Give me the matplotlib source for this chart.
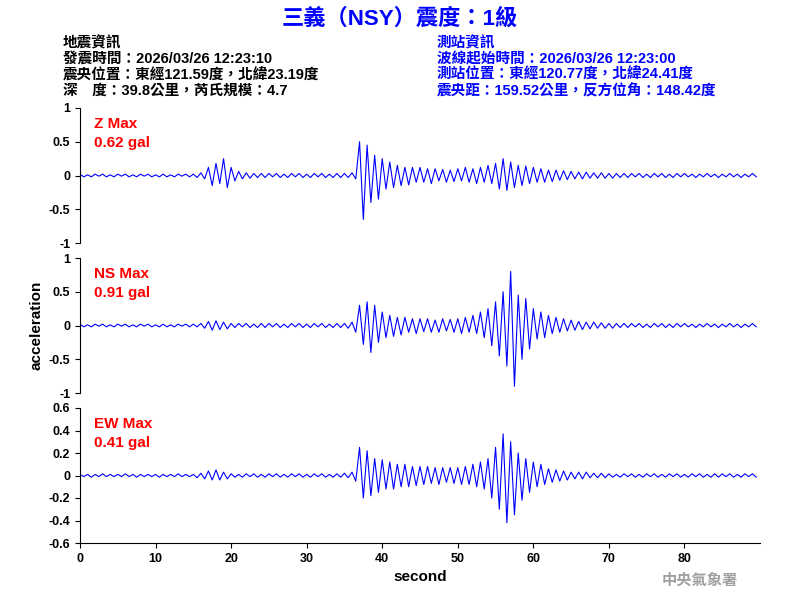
import matplotlib
matplotlib.use("Agg")
import matplotlib.pyplot as plt
import numpy as np

plt.rcParams['font.family'] = ['Liberation Sans', 'Noto Sans CJK TC', 'DejaVu Sans']
plt.rcParams['font.weight'] = 'bold'

step = 0.5
z = [0.02,-0.02,0.01,-0.02,0.02,-0.01,0.02,-0.02,0.01,-0.02,
     0.02,-0.01,0.02,-0.02,0.01,-0.02,0.02,-0.01,0.02,-0.02,
     0.01,-0.02,0.02,-0.02,0.01,-0.02,0.02,-0.01,0.02,-0.02,
     0.02,-0.03,0.04,-0.05,0.12,-0.15,0.18,-0.12,0.25,-0.18,
     0.12,-0.08,0.06,-0.05,0.04,-0.04,0.03,-0.03,0.03,-0.03,
     0.03,-0.02,0.03,-0.03,0.02,-0.03,0.03,-0.02,0.03,-0.03,
     0.02,-0.03,0.03,-0.02,0.03,-0.03,0.02,-0.03,0.03,-0.03,
     0.03,-0.03,0.04,-0.05,0.5,-0.65,0.45,-0.4,0.3,-0.35,
     0.25,-0.2,0.2,-0.18,0.15,-0.15,0.12,-0.14,0.12,-0.1,
     0.12,-0.1,0.1,-0.12,0.1,-0.08,0.09,-0.1,0.08,-0.09,
     0.1,-0.08,0.12,-0.1,0.1,-0.12,0.12,-0.1,0.15,-0.12,
     0.18,-0.2,0.25,-0.22,0.2,-0.18,0.15,-0.15,0.14,-0.12,
     0.12,-0.1,0.1,-0.1,0.08,-0.09,0.08,-0.07,0.07,-0.06,
     0.06,-0.05,0.05,-0.05,0.05,-0.04,0.04,-0.04,0.04,-0.04,
     0.03,-0.04,0.03,-0.03,0.03,-0.03,0.03,-0.02,0.03,-0.03,
     0.02,-0.03,0.03,-0.02,0.03,-0.03,0.02,-0.03,0.03,-0.02,
     0.03,-0.02,0.02,-0.03,0.02,-0.02,0.03,-0.02,0.02,-0.03,
     0.02,-0.02,0.03,-0.02,0.02,-0.03,0.02,-0.02,0.03,-0.02]
ns = [0.02,-0.02,0.01,-0.02,0.02,-0.01,0.02,-0.02,0.01,-0.02,
      0.02,-0.01,0.02,-0.02,0.01,-0.02,0.02,-0.01,0.02,-0.02,
      0.01,-0.02,0.02,-0.02,0.01,-0.02,0.02,-0.01,0.02,-0.02,
      0.02,-0.02,0.03,-0.04,0.06,-0.07,0.07,-0.06,0.05,-0.05,
      0.03,-0.03,0.03,-0.02,0.03,-0.03,0.02,-0.03,0.03,-0.03,
      0.03,-0.02,0.03,-0.03,0.02,-0.03,0.03,-0.02,0.03,-0.03,
      0.02,-0.03,0.03,-0.02,0.03,-0.03,0.02,-0.03,0.03,-0.03,
      0.03,-0.04,0.05,-0.1,0.3,-0.28,0.35,-0.4,0.3,-0.25,
      0.2,-0.18,0.15,-0.16,0.12,-0.14,0.12,-0.1,0.1,-0.12,
      0.1,-0.09,0.1,-0.1,0.08,-0.1,0.1,-0.08,0.09,-0.1,
      0.1,-0.12,0.12,-0.1,0.15,-0.12,0.2,-0.18,0.25,-0.3,
      0.35,-0.45,0.5,-0.6,0.8,-0.9,0.45,-0.5,0.4,-0.35,
      0.25,-0.2,0.2,-0.18,0.15,-0.12,0.12,-0.1,0.1,-0.08,
      0.08,-0.07,0.06,-0.06,0.05,-0.05,0.05,-0.04,0.04,-0.04,
      0.03,-0.04,0.03,-0.03,0.03,-0.03,0.03,-0.02,0.03,-0.03,
      0.02,-0.03,0.03,-0.02,0.03,-0.03,0.02,-0.03,0.03,-0.02,
      0.03,-0.02,0.02,-0.03,0.02,-0.02,0.03,-0.02,0.02,-0.03,
      0.02,-0.02,0.03,-0.02,0.02,-0.03,0.02,-0.02,0.03,-0.02]
ew = [0.01,-0.01,0.01,-0.015,0.01,-0.01,0.015,-0.01,0.01,-0.01,
      0.01,-0.01,0.015,-0.01,0.01,-0.015,0.01,-0.01,0.01,-0.01,
      0.01,-0.015,0.01,-0.01,0.01,-0.01,0.015,-0.01,0.01,-0.01,
      0.01,-0.02,0.02,-0.03,0.04,-0.04,0.05,-0.04,0.03,-0.03,
      0.015,-0.015,0.01,-0.015,0.015,-0.01,0.015,-0.015,0.01,-0.015,
      0.015,-0.01,0.015,-0.015,0.01,-0.015,0.015,-0.01,0.015,-0.015,
      0.01,-0.015,0.015,-0.01,0.015,-0.015,0.01,-0.015,0.015,-0.015,
      0.02,-0.02,0.03,-0.05,0.25,-0.2,0.22,-0.18,0.15,-0.15,
      0.14,-0.12,0.12,-0.12,0.1,-0.1,0.1,-0.1,0.08,-0.09,
      0.08,-0.08,0.08,-0.07,0.07,-0.08,0.07,-0.06,0.07,-0.07,
      0.07,-0.08,0.08,-0.08,0.1,-0.1,0.12,-0.12,0.15,-0.2,
      0.25,-0.3,0.37,-0.42,0.3,-0.35,0.2,-0.22,0.15,-0.15,
      0.12,-0.1,0.1,-0.08,0.06,-0.06,0.05,-0.05,0.04,-0.04,
      0.03,-0.03,0.03,-0.03,0.03,-0.02,0.02,-0.02,0.02,-0.02,
      0.015,-0.015,0.01,-0.015,0.015,-0.01,0.015,-0.015,0.01,-0.015,
      0.015,-0.01,0.015,-0.015,0.01,-0.015,0.015,-0.01,0.015,-0.015,
      0.01,-0.015,0.015,-0.01,0.015,-0.015,0.01,-0.015,0.015,-0.015,
      0.015,-0.01,0.015,-0.015,0.01,-0.015,0.015,-0.01,0.015,-0.015]
labels = ["Z Max\n0.62 gal", "NS Max\n0.91 gal", "EW Max\n0.41 gal"]
ylims = [(-1, 1), (-1, 1), (-0.6, 0.6)]
yticks = [[-1, -0.5, 0, 0.5, 1], [-1, -0.5, 0, 0.5, 1], [-0.6, -0.4, -0.2, 0, 0.2, 0.4, 0.6]]

fig = plt.figure(figsize=(8, 6), dpi=100)
bottoms = [0.595, 0.345, 0.095]
for i, (data, lab, yl, yt) in enumerate(zip([z, ns, ew], labels, ylims, yticks)):
    ax = fig.add_axes([0.1, bottoms[i], 0.85, 0.225])
    t = np.arange(len(data)) * step
    ax.plot(t, data, color='#0000ff', lw=0.8)
    ax.set_xlim(0, 90)
    ax.set_ylim(*yl)
    ax.set_yticks(yt)
    ax.set_yticklabels([f"{v:g}" for v in yt], fontsize=9)
    for s in ['top', 'right']:
        ax.spines[s].set_visible(False)
    if i < 2:
        ax.spines['bottom'].set_visible(False)
        ax.set_xticks([])
    else:
        ax.set_xticks(range(0, 90, 10))
        ax.tick_params(axis='x', labelsize=9)
        ax.set_xlabel("second", fontsize=11, fontweight='bold')
    ax.text(0.02, 0.93, lab, transform=ax.transAxes, color='#ff0000', fontsize=11,
            va='top', ha='left', linespacing=1.4)
    if i == 1:
        ax.set_ylabel("acceleration", fontsize=11, fontweight='bold')

fig.text(0.5, 0.968, "三義（NSY）震度：1級", color='#0000ff', fontsize=16, ha='center', va='center',
         fontweight='bold')
left = ["地震資訊", "發震時間：2026/03/26 12:23:10", "震央位置：東經121.59度，北緯23.19度", "深　度：39.8公里，芮氏規模：4.7"]
right = ["測站資訊", "波線起始時間：2026/03/26 12:23:00", "測站位置：東經120.77度，北緯24.41度", "震央距：159.52公里，反方位角：148.42度"]
for k, (a, b) in enumerate(zip(left, right)):
    y = 1 - (43 + 16 * k) / 600
    fig.text(63 / 800, y, a, fontsize=10.5, color='black', va='center')
    fig.text(437 / 800, y, b, fontsize=10.5, color='#0000ff', va='center')
fig.text(700 / 800, 1 - 580 / 600, "中央氣象署", fontsize=11, color='#a0a0a0', ha='center', va='center')
fig.savefig("out.png", dpi=100)
